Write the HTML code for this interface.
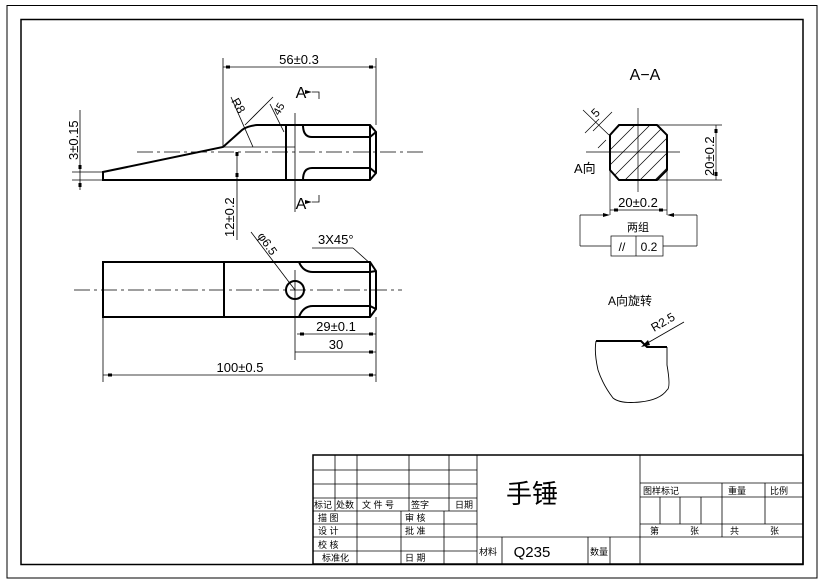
<!DOCTYPE html>
<html><head><meta charset="utf-8"><style>
html,body{margin:0;padding:0;background:#fff;}
svg{display:block;}
text{font-family:"Liberation Sans","Noto Sans CJK SC",sans-serif;fill:#000;}
</style></head><body>
<svg width="826" height="585" viewBox="0 0 826 585" xmlns="http://www.w3.org/2000/svg">
<g fill="none" stroke="#000">
<!-- borders -->
<rect x="7" y="5.5" width="810" height="572.5" stroke-width="1"/>
<rect x="21" y="19.5" width="782" height="545" stroke-width="1.5"/>

<!-- ===== top view ===== -->
<g stroke-width="2">
<path d="M103 180 L370 180 L376 173 L376 132 L370 125 L257 125 Q247 126 242 130 L223 147 L103 172 Z"/>
<line x1="286" y1="125" x2="286" y2="180"/>
<line x1="370" y1="125" x2="370" y2="180"/>
<path d="M303 180 Q303 168 312 168 L370 168 L376 173"/>
<path d="M303 125 Q303 137 312 137 L370 137 L376 132"/>
</g>
<g stroke-width="0.8">
<line x1="295" y1="113" x2="295" y2="212"/>
<line x1="137" y1="152" x2="424" y2="152" stroke-dasharray="16,4,3,4"/>
<line x1="223" y1="147" x2="295" y2="147"/>
<line x1="223" y1="58" x2="223" y2="147"/>
<line x1="376" y1="58" x2="376" y2="125"/>
<line x1="223" y1="67" x2="376" y2="67"/>
<line x1="72" y1="172" x2="103" y2="172"/>
<line x1="72" y1="180" x2="103" y2="180"/>
<line x1="80" y1="110" x2="80" y2="190"/>
<line x1="237" y1="152" x2="237" y2="240"/>
<line x1="231" y1="97" x2="253" y2="147"/>
<line x1="245" y1="125" x2="273" y2="97"/>
<line x1="270" y1="104" x2="284" y2="132"/>
<path d="M312 92 L319 92 L319 99"/>
<path d="M312 202 L319 202 L319 195"/>
</g>
<g fill="#000" stroke="none">
<rect x="226" y="65.5" width="4" height="3"/><rect x="369" y="65.5" width="4" height="3"/>
<rect x="78.5" y="165" width="3" height="4"/><rect x="78.5" y="183" width="3" height="4"/>
<rect x="235.5" y="152" width="3" height="4"/><rect x="235.5" y="173" width="3" height="4"/>
<polygon points="305,90 312,92 305,94"/><polygon points="305,200 312,202 305,204"/>
</g>

<!-- ===== bottom view ===== -->
<g stroke-width="2">
<path d="M103 262 L370 262 L376 271 L376 309 L370 317 L103 317 Z"/>
<line x1="224" y1="262" x2="224" y2="317"/>
<line x1="370" y1="262" x2="370" y2="317"/>
<path d="M299 262 Q303 272 313 272 L370 272 L376 271"/>
<path d="M299 317 Q303 306 313 306 L370 306 L376 309"/>
<circle cx="295" cy="290" r="9"/>
</g>
<g stroke-width="0.8">
<line x1="74" y1="290" x2="402" y2="290" stroke-dasharray="16,4,3,4"/>
<line x1="295" y1="270" x2="295" y2="360"/>
<line x1="251" y1="232" x2="295" y2="290"/>
<line x1="312" y1="248" x2="353" y2="248"/>
<line x1="353" y1="248" x2="372" y2="265"/>
<line x1="297" y1="334" x2="376" y2="334"/>
<line x1="295" y1="352" x2="376" y2="352"/>
<line x1="103" y1="375" x2="376" y2="375"/>
<line x1="376" y1="317" x2="376" y2="382"/>
<line x1="103" y1="317" x2="103" y2="382"/>
</g>
<g fill="#000" stroke="none">
<rect x="300" y="332.5" width="4" height="3"/><rect x="369" y="332.5" width="4" height="3"/>
<rect x="369" y="350.5" width="4" height="3"/>
<rect x="108" y="373.5" width="4" height="3"/><rect x="369" y="373.5" width="4" height="3"/>
</g>

<!-- ===== A-A section ===== -->
<g stroke-width="0.7">
<clipPath id="oc"><polygon points="619,125 657,125 667,135 667,170 657,180 619,180 610,170 610,135"/></clipPath>
<g clip-path="url(#oc)">
<line x1="590" y1="170" x2="640" y2="120"/><line x1="590" y1="185" x2="655" y2="120"/>
<line x1="600" y1="190" x2="670" y2="120"/><line x1="615" y1="190" x2="685" y2="120"/>
<line x1="630" y1="190" x2="700" y2="120"/><line x1="645" y1="190" x2="715" y2="120"/>
<line x1="580" y1="165" x2="625" y2="120"/>
</g>
<line x1="586" y1="152" x2="680" y2="152"/>
<line x1="638" y1="108" x2="638" y2="192"/>
<line x1="657" y1="125" x2="722" y2="125"/>
<line x1="657" y1="180" x2="722" y2="180"/>
<line x1="716" y1="125" x2="716" y2="180"/>
<line x1="610" y1="170" x2="610" y2="215"/>
<line x1="667" y1="170" x2="667" y2="215"/>
<line x1="610" y1="210" x2="667" y2="210"/>
<line x1="580" y1="215" x2="607" y2="215"/>
<line x1="670" y1="215" x2="697" y2="215"/>
<line x1="580" y1="215" x2="580" y2="246"/>
<line x1="697" y1="215" x2="697" y2="246"/>
<line x1="580" y1="246" x2="611" y2="246"/>
<line x1="663" y1="246" x2="697" y2="246"/>
<rect x="611" y="236" width="52" height="20"/>
<line x1="636" y1="236" x2="636" y2="256"/>
<line x1="593" y1="131" x2="612" y2="112"/>
<line x1="609" y1="135" x2="583" y2="110"/>
<line x1="599" y1="119" x2="585" y2="133"/>
<line x1="598" y1="148" x2="606" y2="140"/>
</g>
<polygon points="619,125 657,125 667,135 667,170 657,180 619,180 610,170 610,135" stroke-width="2"/>
<g fill="#000" stroke="none">
<rect x="714.5" y="129" width="3" height="4"/><rect x="714.5" y="172" width="3" height="4"/>
<rect x="614" y="208.5" width="4" height="3"/><rect x="659" y="208.5" width="4" height="3"/>
<polygon points="603,213 610,215 603,217"/><polygon points="674,213 667,215 674,217"/>
</g>

<!-- ===== A rotation detail ===== -->
<path d="M596 341 L641 341 L647 347 L667 347" stroke-width="2"/>
<path d="M667 347 L667 365 Q671 388 667 390 Q660 400 640 402 Q620 404 613 398 Q603 385 598 370 Q594 352 596 341" stroke-width="0.9"/>
<line x1="644" y1="345" x2="684" y2="322" stroke-width="0.8"/>
<polygon points="641,347 648,340 650,345" fill="#000" stroke="none"/>

<!-- ===== title block ===== -->
<g stroke-width="0.8">
<rect x="313" y="455" width="490" height="109" stroke-width="1.5"/>
<line x1="313" y1="470" x2="477" y2="470"/>
<line x1="313" y1="484" x2="477" y2="484"/>
<line x1="313" y1="498" x2="477" y2="498"/>
<line x1="313" y1="511" x2="477" y2="511"/>
<line x1="313" y1="524" x2="477" y2="524"/>
<line x1="313" y1="537" x2="477" y2="537"/>
<line x1="313" y1="551" x2="477" y2="551"/>
<line x1="335" y1="455" x2="335" y2="511"/>
<line x1="357" y1="455" x2="357" y2="564"/>
<line x1="409" y1="455" x2="409" y2="511"/>
<line x1="449" y1="455" x2="449" y2="511"/>
<line x1="401" y1="511" x2="401" y2="564"/>
<line x1="444" y1="511" x2="444" y2="564"/>
<line x1="477" y1="455" x2="477" y2="564"/>
<line x1="640" y1="455" x2="640" y2="564"/>
<line x1="477" y1="537" x2="640" y2="537"/>
<line x1="502" y1="537" x2="502" y2="564"/>
<line x1="588" y1="537" x2="588" y2="564"/>
<line x1="610" y1="537" x2="610" y2="564"/>
<line x1="640" y1="483" x2="803" y2="483"/>
<line x1="640" y1="497" x2="803" y2="497"/>
<line x1="640" y1="524" x2="803" y2="524"/>
<line x1="640" y1="537" x2="803" y2="537"/>
<line x1="722" y1="483" x2="722" y2="537"/>
<line x1="765" y1="483" x2="765" y2="524"/>
<line x1="660" y1="497" x2="660" y2="524"/>
<line x1="680" y1="497" x2="680" y2="524"/>
<line x1="701" y1="497" x2="701" y2="524"/>
</g>
</g>

<!-- text -->
<g font-size="13">
<text x="299" y="64" text-anchor="middle">56±0.3</text>
<text x="301" y="98" font-size="16" text-anchor="middle">A</text>
<text x="301" y="209" font-size="16" text-anchor="middle">A</text>
<text transform="translate(78,160) rotate(-90)">3±0.15</text>
<text transform="translate(234,237) rotate(-90)">12±0.2</text>
<text transform="translate(231,101) rotate(60)" font-size="12">R8</text>
<text transform="translate(279,116) rotate(-60)" font-size="11">45</text>
<text transform="translate(257,236) rotate(55)" font-size="12">φ6.5</text>
<text x="318" y="244">3X45°</text>
<text x="336" y="331" text-anchor="middle">29±0.1</text>
<text x="336" y="349" text-anchor="middle">30</text>
<text x="240" y="372" text-anchor="middle">100±0.5</text>
<text x="645" y="80" font-size="16" text-anchor="middle">A−A</text>
<text transform="translate(596,118) rotate(-45)" font-size="12">5</text>
<text x="574" y="173" font-size="13">A向</text>
<text transform="translate(714,176) rotate(-90)">20±0.2</text>
<text x="638" y="207" text-anchor="middle">20±0.2</text>
<text x="638" y="231" font-size="11" text-anchor="middle">两组</text>
<text x="622" y="251" font-size="12" text-anchor="middle">//</text>
<text x="649" y="251" font-size="12" text-anchor="middle">0.2</text>
<text x="608" y="305" font-size="12">A向旋转</text>
<text transform="translate(654,332) rotate(-30)" font-size="12">R2.5</text>
<text x="532" y="503" font-size="26" text-anchor="middle">手锤</text>
<text x="532" y="557" font-size="15" text-anchor="middle">Q235</text>
</g>
<g font-size="9">
<text x="314" y="508">标记</text><text x="336" y="508">处数</text>
<text x="362" y="508">文 件 号</text><text x="411" y="508">签字</text><text x="455" y="508">日期</text>
<text x="318" y="521">描 图</text><text x="405" y="521">审 核</text>
<text x="318" y="534">设 计</text><text x="405" y="534">批 准</text>
<text x="318" y="548">校 核</text><text x="405" y="561">日 期</text>
<text x="322" y="561">标准化</text>
<text x="479" y="555">材料</text><text x="590" y="555">数量</text>
<text x="643" y="494">图样标记</text><text x="728" y="494">重量</text><text x="770" y="494">比例</text>
<text x="650" y="534">第</text><text x="690" y="534">张</text><text x="730" y="534">共</text><text x="770" y="534">张</text>
</g>
</svg>
</body></html>
